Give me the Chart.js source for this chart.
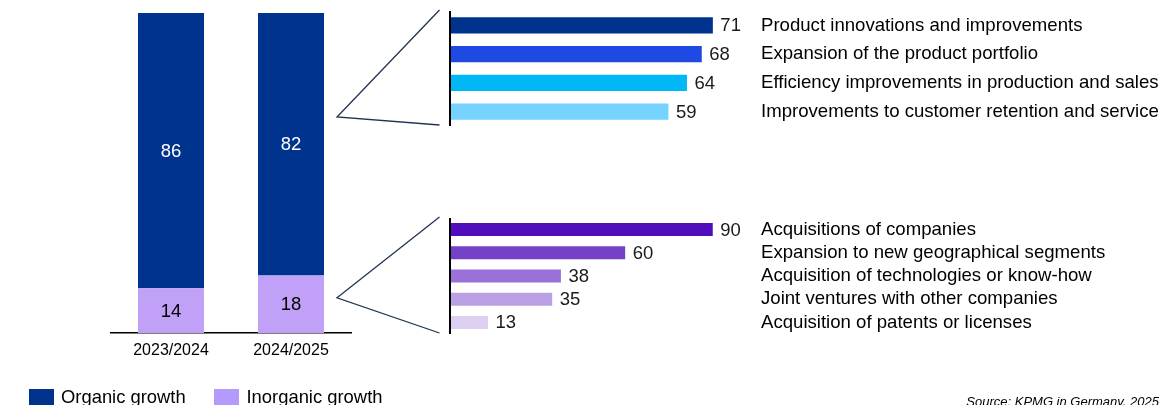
<!DOCTYPE html>
<html>
<head>
<meta charset="utf-8">
<script src="https://cdn.jsdelivr.net/npm/chart.js@4.4.1/dist/chart.umd.min.js"></script>
<style>
  html, body { margin: 0; padding: 0; background: #fff; }
  body { position: relative; width: 1163px; height: 405px; overflow: hidden; font-family: 'Liberation Sans', Arial, sans-serif; }
  canvas { position: absolute; }
  #legend { position: absolute; left: 0; top: 0; }
  .lg-box { position: absolute; width: 25px; height: 20px; }
  .lg-text { position: absolute; font-size: 18.4px; line-height: 18px; color: #000; white-space: nowrap; }
  #source { position: absolute; right: 4px; top: 395px; font-size: 13px; line-height: 13px; font-style: italic; color: #000; white-space: nowrap; }
</style>
</head>
<body>
<canvas id="shareChart" width="360" height="370" style="left:0;top:0"></canvas>
<canvas id="organicChart" width="823" height="140" style="left:340px;top:0"></canvas>
<canvas id="inorganicChart" width="823" height="150" style="left:340px;top:200px"></canvas>
<canvas id="connectors" width="1163" height="405" style="left:0;top:0;pointer-events:none"></canvas>
<div id="legend"></div>
<div id="source">Source: KPMG in Germany, 2025</div>
<script>
// ---- data ----
const periods = ['2023/2024', '2024/2025'];
const organicGrowth = [86, 82];
const inorganicGrowth = [14, 18];
const seriesNames = ['Organic growth', 'Inorganic growth'];

const organicDrivers = [
  'Product innovations and improvements',
  'Expansion of the product portfolio',
  'Efficiency improvements in production and sales',
  'Improvements to customer retention and service'
];
const organicDriverShares = [71, 68, 64, 59];

const inorganicDrivers = [
  'Acquisitions of companies',
  'Expansion to new geographical segments',
  'Acquisition of technologies or know-how',
  'Joint ventures with other companies',
  'Acquisition of patents or licenses'
];
const inorganicDriverShares = [90, 60, 38, 35, 13];

// ---- styles ----
const FONT = "'Liberation Sans', Arial, sans-serif";
const organicColor = '#00338D';
const inorganicColor = '#C0A1F7';
const organicDriverColors = ['#00338D', '#1E49E2', '#00B8F5', '#76D2FF'];
const inorganicDriverColors = ['#510DBC', '#7340C6', '#9B70D9', '#B9A0E4', '#DDCFF1'];

Chart.defaults.font.family = FONT;
Chart.defaults.color = '#000';
Chart.defaults.animation = false;

const valueLabels = {
  id: 'valueLabels',
  afterDatasetsDraw(chart, args, opts) {
    const ctx = chart.ctx;
    ctx.save();
    ctx.font = opts.size + 'px ' + FONT;
    ctx.textBaseline = 'middle';
    chart.data.datasets.forEach((ds, di) => {
      const meta = chart.getDatasetMeta(di);
      meta.data.forEach((el, i) => {
        const v = ds.data[i];
        const p = el.getProps(['x', 'y', 'base'], true);
        if (opts.mode === 'center') {
          ctx.textAlign = 'center';
          ctx.fillStyle = opts.colors[di];
          ctx.fillText(String(v), p.x, (p.y + p.base) / 2 + 1);
        } else {
          ctx.textAlign = 'left';
          ctx.fillStyle = '#1a1a1a';
          ctx.fillText(String(v), p.x + 7.5, p.y + 1);
        }
      });
    });
    ctx.restore();
  }
};

// ---- left stacked chart ----
const shareChart = new Chart(document.getElementById('shareChart'), {
  type: 'bar',
  data: {
    labels: periods,
    datasets: [
      { label: seriesNames[1], data: inorganicGrowth, backgroundColor: inorganicColor, barPercentage: 0.55, categoryPercentage: 1 },
      { label: seriesNames[0], data: organicGrowth, backgroundColor: organicColor, barPercentage: 0.55, categoryPercentage: 1 }
    ]
  },
  options: {
    responsive: false,
    devicePixelRatio: 1,
    layout: { padding: { left: 111, right: 9, top: 13, bottom: 0 } },
    plugins: {
      legend: { display: false },
      tooltip: { enabled: false },
      valueLabels: { mode: 'center', size: 18.5, colors: ['#000', '#fff'] }
    },
    scales: {
      x: {
        stacked: true,
        grid: { display: false, drawTicks: false },
        border: { display: true, color: '#000', width: 1.5 },
        ticks: { font: { size: 16 }, color: '#000', padding: 8 },
        afterFit(s) { s.height = 37; }
      },
      y: { stacked: true, display: false, min: 0, max: 100 }
    }
  },
  plugins: [valueLabels]
});

// ---- right horizontal charts ----
function driverChart(id, labels, values, colors, xMax, topPad, bottomPad) {
  return new Chart(document.getElementById(id), {
    type: 'bar',
    data: {
      labels: labels,
      datasets: [{ data: values, backgroundColor: colors, barPercentage: 0.56, categoryPercentage: 1 }]
    },
    options: {
      indexAxis: 'y',
      responsive: false,
      devicePixelRatio: 1,
      layout: { padding: { left: 110, right: 0, top: topPad, bottom: bottomPad } },
      plugins: {
        legend: { display: false },
        tooltip: { enabled: false },
        valueLabels: { mode: 'end', size: 18.5 }
      },
      scales: {
        x: {
          min: 0, max: xMax,
          grid: {
            display: true, drawTicks: false, drawOnChartArea: true,
            color: (c) => (c.tick && c.tick.value === 0 ? '#000' : 'rgba(0,0,0,0)'),
            lineWidth: 2
          },
          border: { display: false },
          ticks: { display: false },
          afterFit(s) { s.height = 0; s.paddingLeft = 0; s.paddingRight = 0; }
        },
        y: {
          position: 'right',
          grid: { display: false, drawTicks: false },
          border: { display: false },
          ticks: { font: { size: 18.6 }, color: '#000', padding: 10, autoSkip: false },
          afterFit(s) { s.width = 412; s.paddingTop = 0; s.paddingBottom = 0; }
        }
      }
    },
    plugins: [valueLabels]
  });
}

const organicChart = driverChart('organicChart', organicDrivers, organicDriverShares, organicDriverColors, 81.3, 11, 14);
const inorganicChart = driverChart('inorganicChart', inorganicDrivers, inorganicDriverShares, inorganicDriverColors, 103.1, 18, 16);

// ---- legend ----
const legend = document.getElementById('legend');
const legendItems = [
  { text: seriesNames[0], color: organicColor, box: 29, label: 61 },
  { text: seriesNames[1], color: '#B59AFD', box: 214, label: 246.5 }
];
legendItems.forEach(it => {
  const b = document.createElement('div');
  b.className = 'lg-box';
  b.style.left = it.box + 'px'; b.style.top = '389px'; b.style.background = it.color;
  const t = document.createElement('div');
  t.className = 'lg-text';
  t.style.left = it.label + 'px'; t.style.top = '388px';
  t.textContent = it.text;
  legend.appendChild(b); legend.appendChild(t);
});

// ---- connector wedges ----
(function drawConnectors() {
  const ctx = document.getElementById('connectors').getContext('2d');
  const leftArea = shareChart.chartArea;
  const ys = shareChart.scales.y;
  const vx = leftArea.right - 14;
  const wedges = [
    { chart: organicChart, top: 0, vy: ys.getPixelForValue(67.5) },
    { chart: inorganicChart, top: 200, vy: ys.getPixelForValue(11) }
  ];
  ctx.strokeStyle = '#1F3550';
  ctx.lineWidth = 1.3;
  wedges.forEach(w => {
    const a = w.chart.chartArea;
    const ex = 340 + a.left - 10.5;
    ctx.beginPath();
    ctx.moveTo(ex, w.top + a.top - 1);
    ctx.lineTo(vx, w.vy);
    ctx.lineTo(ex, w.top + a.bottom - 1);
    ctx.stroke();
  });
})();
</script>
</body>
</html>
